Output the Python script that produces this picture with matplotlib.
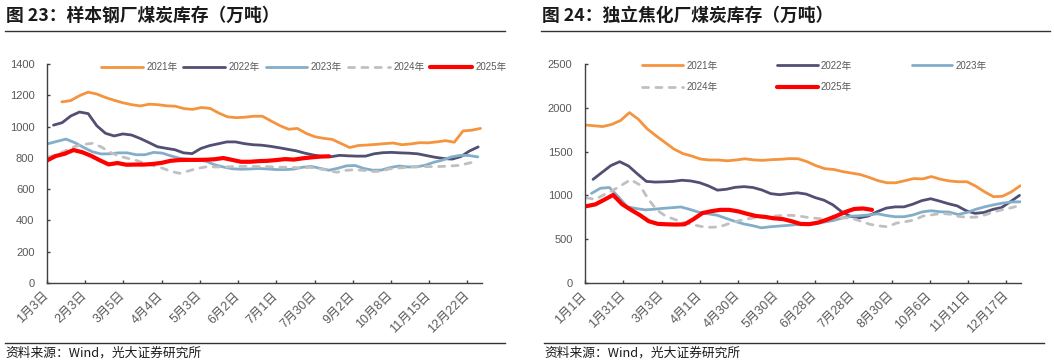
import numpy as np
import matplotlib
matplotlib.use("Agg")
import matplotlib.pyplot as plt  # noqa: E402
from matplotlib.lines import Line2D  # noqa: E402

CJK = ["Noto Sans CJK SC", "DejaVu Sans"]
LAT = ["Liberation Sans", "Noto Sans CJK SC"]

YEARS = ["2021年", "2022年", "2023年", "2024年", "2025年"]

# --- 图23 样本钢厂煤炭库存 (万吨), weekly values ---
STEEL_TICKS = ["1月3日", "2月3日", "3月5日", "4月4日", "5月3日", "6月2日",
               "7月1日", "7月30日", "9月2日", "10月8日", "11月15日", "12月22日"]
STEEL_2021 = [1158, 1166, 1197, 1220, 1208, 1186, 1168, 1152, 1140, 1132,
              1143, 1140, 1133, 1130, 1115, 1110, 1122, 1116, 1086, 1062,
              1057, 1060, 1066, 1066, 1035, 1006, 983, 988, 957, 935,
              925, 918, 892, 866, 879, 882, 886, 891, 895, 884,
              889, 897, 896, 902, 910, 900, 972, 977, 988]
STEEL_2022 = [1009, 1025, 1068, 1093, 1083, 1005, 957, 940, 953, 946,
              924, 898, 871, 861, 852, 832, 827, 860, 878, 890,
              902, 902, 891, 884, 881, 874, 865, 855, 845, 830,
              818, 809, 807, 816, 813, 811, 811, 826, 833, 835,
              832, 830, 826, 815, 804, 796, 792, 808, 844, 870]
STEEL_2023 = [891, 906, 920, 897, 867, 839, 825, 826, 832, 832,
              820, 820, 835, 830, 812, 797, 791, 788, 778, 755,
              741, 730, 727, 729, 732, 729, 725, 725, 728, 740,
              745, 733, 721, 733, 749, 751, 732, 721, 722, 738,
              748, 742, 742, 753, 772, 786, 806, 816, 815, 806]
STEEL_2024 = [805, 822, 847, 872, 886, 893, 871, 837, 812, 798,
              784, 765, 750, 735, 714, 701, 716, 732, 742, 742,
              741, 744, 745, 746, 744, 744, 741, 740, 738, 736,
              739, 730, 720, 708, 720, 724, 720, 713, 714, 729,
              735, 739, 745, 744, 744, 745, 748, 752, 765, 778]
STEEL_2025 = [783, 812, 826, 850, 836, 813, 784, 758, 767, 756,
              757, 757, 761, 768, 781, 786, 787, 787, 788, 791,
              799, 787, 775, 775, 779, 781, 786, 792, 789, 797,
              803, 808, 810]
# first / last observation, in units of the category tick interval
STEEL_SPAN = [(0.39, 11.34), (0.17, 11.28), (0.04, 11.27), (0.04, 11.24), (0.0, 7.38)]

# --- 图24 独立焦化厂煤炭库存 (万吨) ---
COKE_TICKS = ["1月1日", "1月31日", "3月3日", "4月1日", "4月30日", "5月30日",
              "6月28日", "7月28日", "8月30日", "10月6日", "11月11日", "12月17日"]
COKE_2021 = [1804, 1795, 1786, 1810, 1855, 1945, 1870, 1760, 1680, 1605,
             1530, 1478, 1450, 1415, 1404, 1404, 1395, 1404, 1418, 1405,
             1400, 1408, 1412, 1420, 1418, 1385, 1340, 1305, 1296, 1272,
             1255, 1238, 1205, 1168, 1144, 1144, 1168, 1192, 1188, 1215,
             1185, 1165, 1156, 1156, 1105, 1040, 985, 990, 1040, 1110]
COKE_2022 = [1183, 1262, 1340, 1385, 1335, 1245, 1160, 1152, 1155, 1160,
             1173, 1165, 1145, 1108, 1060, 1070, 1092, 1100, 1090, 1062,
             1020, 1008, 1020, 1030, 1015, 975, 945, 892, 812, 760,
             745, 765, 815, 855, 869, 869, 900, 940, 962, 935,
             905, 880, 825, 795, 805, 840, 862, 930, 1000]
COKE_2023 = [1023, 1082, 1090, 985, 870, 850, 835, 842, 852, 860,
             868, 840, 808, 790, 775, 740, 705, 675, 655, 630,
             642, 650, 658, 667, 672, 680, 695, 712, 740, 763,
             768, 777, 790, 770, 756, 757, 778, 812, 825, 813,
             810, 782, 805, 842, 870, 893, 912, 925, 927]
COKE_2024 = [973, 955, 1008, 1058, 1118, 1180, 1122, 955, 830, 760,
             725, 690, 665, 645, 636, 640, 675, 705, 730, 745,
             752, 762, 770, 773, 765, 748, 738, 727, 740, 745,
             738, 705, 670, 652, 642, 684, 700, 720, 765, 778,
             794, 786, 760, 750, 752, 778, 812, 838, 860, 888]
COKE_2025 = [877, 897, 950, 1005, 900, 835, 775, 705, 675, 670,
             667, 670, 728, 798, 820, 835, 835, 818, 790, 765,
             755, 738, 730, 705, 674, 672, 690, 725, 765, 810,
             845, 851, 835]
COKE_SPAN = [(0.0, 11.36), (0.21, 11.34), (0.17, 11.37), (0.035, 11.37), (0.035, 7.49)]

COLORS = ["#F5943F", "#514F73", "#83AECA", "#C0C0C0", "#FF0000"]
WIDTHS = [2.0, 2.0, 2.0, 2.0, 3.0]
TEXT_GREY = "#595959"
AXIS_GREY = "#404040"


def draw(ax, series, spans, ticks, ymax, ystep):
    for i, (vals, (x0, x1)) in enumerate(zip(series, spans)):
        x = np.linspace(x0, x1, len(vals))
        kw = dict(color=COLORS[i], lw=WIDTHS[i], label=YEARS[i], solid_capstyle="round")
        if i == 3:
            kw.update(linestyle=(0, (2.2, 2.6)), dash_capstyle="round")
        ax.plot(x, vals, **kw)
    ax.set_xlim(0, 11.38)
    ax.set_ylim(0, ymax)
    ax.set_yticks(np.arange(0, ymax + 1, ystep))
    ax.set_xticks(np.arange(len(ticks)))
    ax.set_xticklabels(ticks, rotation=45, ha="right", rotation_mode="anchor",
                       va="center", family=LAT, fontsize=9, color=TEXT_GREY)
    for lab in ax.get_yticklabels():
        lab.set_family(LAT)
        lab.set_fontsize(8)
        lab.set_color(TEXT_GREY)
    for s in ("top", "right"):
        ax.spines[s].set_visible(False)
    for s in ("left", "bottom"):
        ax.spines[s].set_color(AXIS_GREY)
        ax.spines[s].set_linewidth(1.0)
    ax.tick_params(axis="both", direction="in", length=2.5, width=1.0, color=AXIS_GREY)
    ax.tick_params(axis="y", pad=9)
    ax.tick_params(axis="x", pad=8)


W, H = 1054, 364
fig = plt.figure(figsize=(W / 100, H / 100), dpi=100)

ax1 = fig.add_axes([47 / W, 1 - 283 / H, 435 / W, 219 / H])
draw(ax1, [STEEL_2021, STEEL_2022, STEEL_2023, STEEL_2024, STEEL_2025],
     STEEL_SPAN, STEEL_TICKS, 1400, 200)
ax1.legend(ncol=5, loc="center left", bbox_to_anchor=(101 / W, 1 - 67 / H),
           bbox_transform=fig.transFigure, frameon=False, borderpad=0, borderaxespad=0,
           handlelength=4.3, handletextpad=0.35, columnspacing=0.6,
           prop={"family": LAT, "size": 7}, labelcolor=TEXT_GREY)

ax2 = fig.add_axes([585 / W, 1 - 283 / H, 436 / W, 219 / H])
draw(ax2, [COKE_2021, COKE_2022, COKE_2023, COKE_2024, COKE_2025],
     COKE_SPAN, COKE_TICKS, 2500, 500)
# legend is filled column by column, so reorder to read row by row
h, l = ax2.get_legend_handles_labels()
order = [0, 3, 1, 4, 2]
ax2.legend([h[k] for k in order], [l[k] for k in order],
           ncol=3, loc="center left", bbox_to_anchor=(642 / W, 1 - 76.5 / H),
           bbox_transform=fig.transFigure, frameon=False, borderpad=0, borderaxespad=0,
           handlelength=4.2, handletextpad=0.35, columnspacing=6.1, labelspacing=1.2,
           prop={"family": LAT, "size": 7}, labelcolor=TEXT_GREY)

# titles, rules and source notes
for x0, x1, title in [(5, 505, "图 23：样本钢厂煤炭库存（万吨）"),
                      (541, 1050, "图 24：独立焦化厂煤炭库存（万吨）")]:
    fig.text(x0 / W + 0.001, 1 - 16 / H, title, family=CJK, fontsize=12.8,
             fontweight="bold", va="center", ha="left", color="#1a1a1a")
    fig.add_artist(Line2D([x0 / W, x1 / W], [1 - 31 / H] * 2, transform=fig.transFigure,
                          color="#333333", lw=1.0))
for x0, x1 in [(5, 505), (544, 1044)]:
    fig.add_artist(Line2D([x0 / W, x1 / W], [1 - 343 / H] * 2, transform=fig.transFigure,
                          color="#333333", lw=1.0))
    fig.text(x0 / W, 1 - 353 / H, "资料来源：Wind，光大证券研究所", family=CJK,
             fontsize=9.2, va="center", ha="left", color="#1a1a1a")

fig.savefig("out.png", dpi=100)
